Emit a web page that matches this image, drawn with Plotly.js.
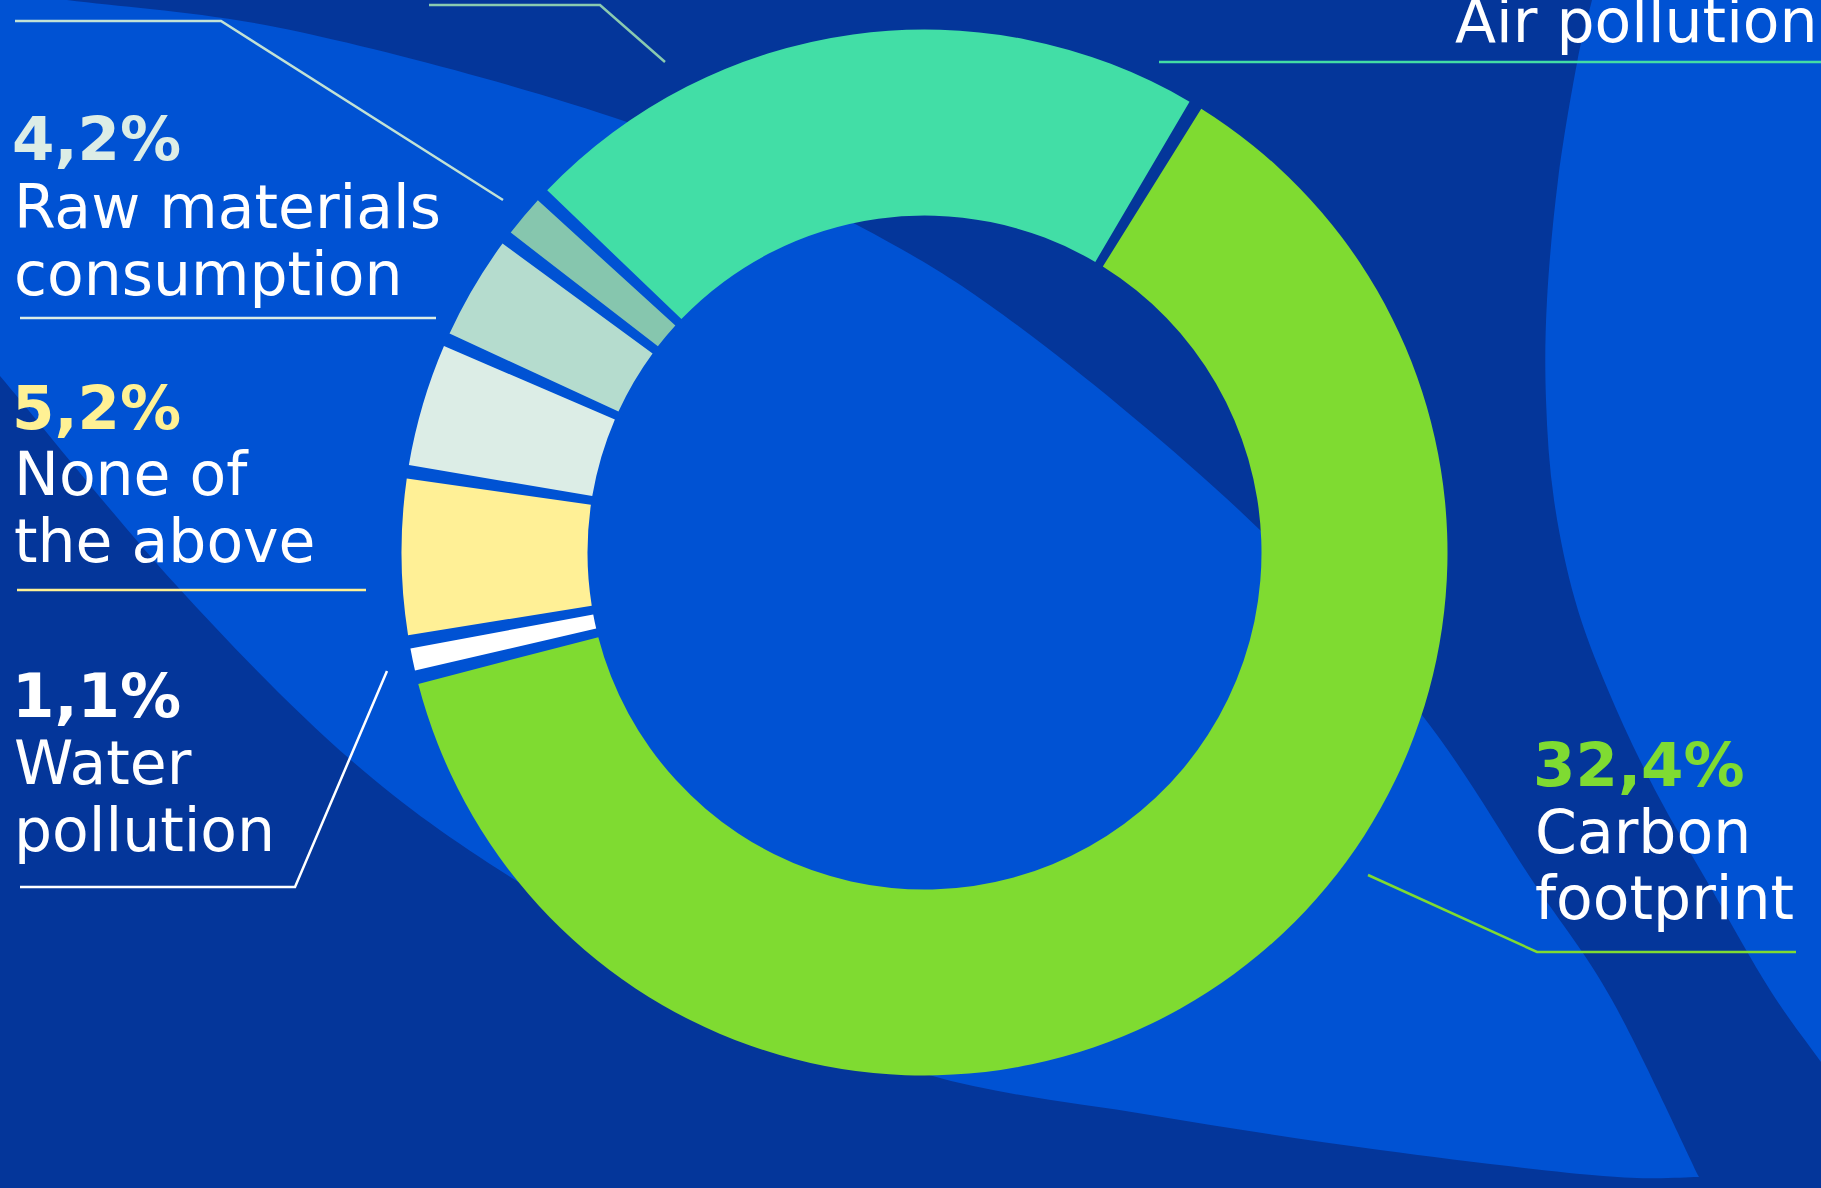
<!DOCTYPE html>
<html>
<head>
<meta charset="utf-8">
<script src="https://cdn.plot.ly/plotly-3.0.1.min.js"></script>
<style>
html,body{margin:0;padding:0;background:#04369A;overflow:hidden;}
#chart{width:1821px;height:1188px;}
</style>
</head>
<body>
<div id="chart"></div>
<script>
// ---------------- data ----------------
const categories = ["Carbon footprint", "Water pollution", "None of the above",
                    "Raw materials consumption", "Unlabelled slice A", "Unlabelled slice B", "Air pollution"];
const shares = [62.5, 1.1, 5.2, 4.2, 3.6, 1.7, 21.7];           // share of the ring, %
const sliceColors = ["#7FDB31", "#FFFFFF", "#FFF096", "#DCEDE6", "#B5DCCE", "#86C6AE", "#42DEA6"];

const labelPct    = ["4,2%", "5,2%", "1,1%", "32,4%"];
const labelLine1  = ["Raw materials", "None of", "Water", "Carbon"];
const labelLine2  = ["consumption", "the above", "pollution", "footprint"];
const labelColors = ["#DCEDE6", "#FFF194", "#FFFFFF", "#7FDB32"];
const topLabel    = "Air pollution";

// ---------------- layout helpers ----------------
const W = 1821, H = 1188;
const NAVY = "#04369A", BLUE = "#0052D3";
const px = x => x / W;
const py = y => 1 - y / H;

function smoothPath(pts) {
  // Catmull-Rom -> cubic Bezier through points (pixel coords), returned in paper units
  let d = `M${px(pts[0][0])},${py(pts[0][1])}`;
  for (let i = 0; i < pts.length - 1; i++) {
    const p0 = pts[Math.max(0, i - 1)], p1 = pts[i], p2 = pts[i + 1], p3 = pts[Math.min(pts.length - 1, i + 2)];
    const c1 = [p1[0] + (p2[0] - p0[0]) / 6, p1[1] + (p2[1] - p0[1]) / 6];
    const c2 = [p2[0] - (p3[0] - p1[0]) / 6, p2[1] - (p3[1] - p1[1]) / 6];
    d += ` C${px(c1[0])},${py(c1[1])} ${px(c2[0])},${py(c2[1])} ${px(p2[0])},${py(p2[1])}`;
  }
  return d;
}
function lineTo(pts) { return pts.map(p => `L${px(p[0])},${py(p[1])}`).join(" "); }

// decorative background shapes
const leafLower = [[-40, 330], [0, 376], [176, 585], [352, 761], [520, 883], [720, 992], [929, 1075], [1150, 1115], [1380, 1150], [1603, 1176], [1699, 1177]];
const leafUpper = [[1699, 1177], [1612, 1000], [1532, 880], [1422, 715], [1260, 530], [1033, 337], [859, 226], [627, 122], [300, 32], [67, 0], [-60, -14]];
let leafPath = smoothPath(leafLower);
leafPath += " " + smoothPath(leafUpper).replace(/^M[^ ]+/, "");
leafPath += " " + lineTo([[-60, 330]]) + " Z";

const rightEdge = [[1600, -30], [1592, 0], [1577, 63], [1558, 180], [1547, 300], [1546, 400], [1554, 500], [1575, 600], [1608, 690], [1655, 790], [1712, 890], [1770, 990], [1821, 1062], [1860, 1115]];
let rightPath = smoothPath(rightEdge) + " " + lineTo([[1900, 1115], [1900, -30]]) + " Z";

const shapes = [
  {type: "path", xref: "paper", yref: "paper", path: leafPath, fillcolor: BLUE, line: {width: 0}, layer: "below"},
  {type: "path", xref: "paper", yref: "paper", path: rightPath, fillcolor: BLUE, line: {width: 0}, layer: "below"}
];
function polyline(pts, color) {
  shapes.push({type: "path", xref: "paper", yref: "paper", layer: "above",
    path: `M${px(pts[0][0])},${py(pts[0][1])} ` + lineTo(pts.slice(1)),
    line: {color: color, width: 2.5}});
}
// leader lines
polyline([[15, 21], [221, 21], [503, 200]], "#C2E2D5");
polyline([[429, 5], [600, 5], [665, 62]], "#8ACAB0");
polyline([[20, 318], [436, 318]], "#DCEDE6");
polyline([[17, 590], [366, 590]], "#FFF194");
polyline([[20, 887], [295, 887], [387, 671]], "#FFFFFF");
polyline([[1368, 875], [1537, 952], [1796, 952]], "#7FDB32");
polyline([[1159, 62], [1830, 62]], "#43DDA5");

// ---------------- annotations ----------------
const REG = "DejaVu Sans", REG_SIZE = 60, PCT_SIZE = 61;
const annotations = [];
function addText(text, xLeft, baseline, size, color, bold) {
  const k = 0.346;
  annotations.push({
    text: text, xref: "paper", yref: "paper", showarrow: false,
    x: px(xLeft), y: py(baseline - k * size), xanchor: "left", yanchor: "middle",
    font: {family: REG, size: size, color: color, weight: bold ? "bold" : "normal"}
  });
}
const blockX    = [10, 10, 10, 1531];
const pctBase   = [160, 429, 717, 786];
const line1Base = [228, 495, 784, 853];
const line2Base = [295, 562, 851, 919];
for (let i = 0; i < labelPct.length; i++) {
  addText(labelPct[i], blockX[i], pctBase[i], PCT_SIZE, labelColors[i], true);
  addText(labelLine1[i], blockX[i] + 2, line1Base[i], REG_SIZE, "#FFFFFF", false);
  addText(labelLine2[i], blockX[i] + 2, line2Base[i], REG_SIZE, "#FFFFFF", false);
}
addText(topLabel, 1453, 42, REG_SIZE, "#FFFFFF", false);

// ---------------- pie ----------------
const padDeg = 1.5;
const padShare = padDeg / 360 * 100;
const values = [], colors = [], names = [];
for (let i = 0; i < shares.length; i++) {
  values.push(shares[i] - padShare); colors.push(sliceColors[i]); names.push(categories[i]);
  values.push(padShare); colors.push("rgba(0,0,0,0)"); names.push("gap " + (i + 1));
}
const cx = 924.5, cy = 552.5, R = 523, rIn = 337;
const trace = {
  type: "pie", labels: names, values: values, sort: false, direction: "clockwise",
  rotation: 31.2 + padDeg / 2,
  hole: rIn / R,
  marker: {colors: colors, line: {width: 0}},
  textinfo: "none", hoverinfo: "none", showlegend: false,
  domain: {x: [px(cx - R), px(cx + R)], y: [py(cy + R), py(cy - R)]}
};

const layout = {
  width: W, height: H, margin: {l: 0, r: 0, t: 0, b: 0},
  paper_bgcolor: NAVY, plot_bgcolor: NAVY, showlegend: false,
  shapes: shapes, annotations: annotations
};
Plotly.newPlot("chart", [trace], layout, {displayModeBar: false, staticPlot: true});
</script>
</body>
</html>
